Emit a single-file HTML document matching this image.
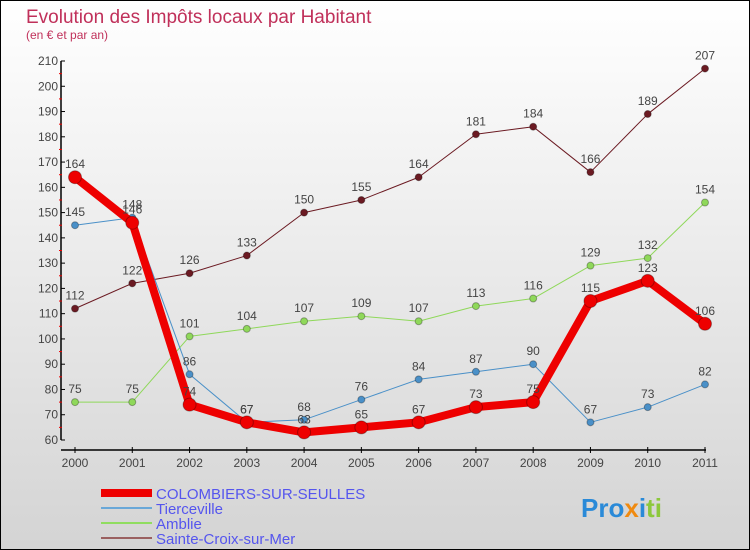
<!DOCTYPE html>
<html><head><meta charset="utf-8"><style>
body{margin:0}
#c{width:748px;height:548px;border:1px solid #000;background:linear-gradient(#fff,#d4d4d4);position:relative;font-family:"Liberation Sans",sans-serif;overflow:hidden}
</style></head><body>
<div id="c">
<svg id="s" width="748" height="548"></svg>
</div>
<script>
const years=[2000,2001,2002,2003,2004,2005,2006,2007,2008,2009,2010,2011];
const colombiers=[164,146,74,67,63,65,67,73,75,115,123,106];
const tierceville=[145,148,86,67,68,76,84,87,90,67,73,82];
const amblie=[75,75,101,104,107,109,107,113,116,129,132,154];
const sainteCroix=[112,122,126,133,150,155,164,181,184,166,189,207];
const yTicks=[60,70,80,90,100,110,120,130,140,150,160,170,180,190,200,210];
const NS="http://www.w3.org/2000/svg";
const s=document.getElementById('s');
function X(i){return 74+i*(630/(years.length-1));}
function Y(v){return 439-(v-60)*(379/150);}
function el(t,a,p){const e=document.createElementNS(NS,t);for(const k in a)e.setAttribute(k,a[k]);(p||s).appendChild(e);return e;}
let t=el('text',{x:25,y:22,fill:'#c0305a','font-size':19});t.textContent='Evolution des Impôts locaux par Habitant';

t=el('text',{x:25,y:38,fill:'#c0305a','font-size':12});t.textContent='(en € et par an)';

// axes
let a=el('line',{x1:60,y1:Y(210),x2:60,y2:Y(60),stroke:'#000','stroke-width':1.5});

a=el('line',{x1:60,y1:449,x2:705,y2:449,stroke:'#000','stroke-width':1.5});

yTicks.forEach((v,i)=>{
 el('line',{x1:60,y1:Y(v),x2:64,y2:Y(v),stroke:'#000'});
 if(i<yTicks.length-1)el('line',{x1:58,y1:Y(v+5),x2:61,y2:Y(v+5),stroke:'#e00'});
 const tx=el('text',{x:57,y:Y(v)+4,'text-anchor':'end','font-size':12,fill:'#444'});tx.textContent=v;
 
});
years.forEach((y,i)=>{
 el('line',{x1:X(i),y1:446,x2:X(i),y2:452,stroke:'#000'});
 const tx=el('text',{x:X(i),y:466,'text-anchor':'middle','font-size':12,fill:'#444'});tx.textContent=y;
 
});
function series(d,col,w,r,name){
 const g=el('g',{});
 el('polyline',{points:d.map((v,i)=>X(i)+','+Y(v)).join(' '),fill:'none',stroke:col,'stroke-width':w,'stroke-linejoin':'round'},g);
 d.forEach((v,i)=>{const c=el('circle',{cx:X(i),cy:Y(v),r:r,fill:col,stroke:'rgba(0,0,0,0.3)'},g);
  
  const tx=el('text',{x:X(i),y:Y(v)-9,'text-anchor':'middle','font-size':12,fill:'#444'},g);tx.textContent=v;});
}
series(sainteCroix,'#6b1a22',1,3.5,'series-sainte-croix');
series(amblie,'#8fd85a',1,3.5,'series-amblie');
series(tierceville,'#4a90c8',1,3.5,'series-tierceville');
series(colombiers,'#ee0000',8,6.5,'series-colombiers');
const legend=[['COLOMBIERS-SUR-SEULLES','#ee0000',8],['Tierceville','#6aa8d8',2],['Amblie','#90dd60',2],['Sainte-Croix-sur-Mer','#9a6060',2]];
legend.forEach((l,i)=>{const g=el('g',{});
 const y=492+i*15;el('line',{x1:100,y1:y,x2:151,y2:y,stroke:l[1],'stroke-width':l[2]},g);
 const tx=el('text',{x:155,y:y+6,'font-size':15,fill:'#5555ee'},g);tx.textContent=l[0];});
const lg=el('text',{x:580,y:516,'font-size':26,'font-weight':'bold',fill:'#2a8ad8'});
lg.innerHTML='<tspan fill="#2a8ad8">Pro</tspan><tspan fill="#f08a10">x</tspan><tspan fill="#2a8ad8">i</tspan><tspan fill="#8cc83c">ti</tspan>';

</script>
</body></html>
